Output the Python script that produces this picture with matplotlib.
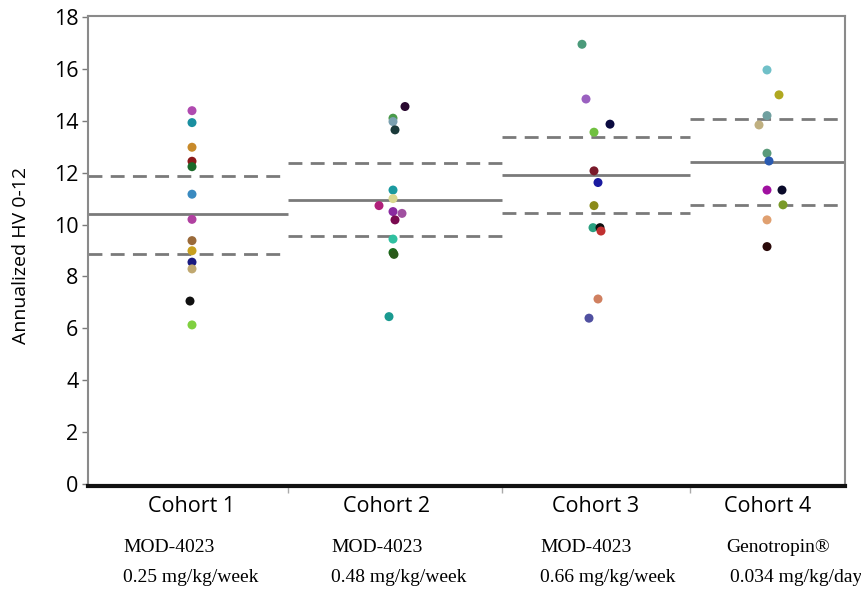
import numpy as np
import matplotlib
matplotlib.use("Agg")
import matplotlib.pyplot as plt

# data
cohorts = ["Cohort 1", "Cohort 2", "Cohort 3", "Cohort 4"]
drugs = ["MOD-4023", "MOD-4023", "MOD-4023", "Genotropin\u00ae"]
doses = ["0.25 mg/kg/week", "0.48 mg/kg/week", "0.66 mg/kg/week", "0.034 mg/kg/day"]

hv_c1 = [14.39, 13.93, 12.98, 12.44, 12.23, 11.17, 10.20, 9.38, 8.99, 8.55, 8.29, 7.05, 6.13]
hv_c2 = [14.55, 14.10, 13.97, 13.65, 11.33, 11.00, 10.73, 10.50, 10.43, 10.18, 9.44, 8.92, 8.85, 6.45]
hv_c3 = [16.95, 14.84, 13.87, 13.56, 12.07, 11.62, 10.73, 9.88, 9.88, 9.75, 7.13, 6.39]
hv_c4 = [15.96, 15.00, 14.20, 13.84, 12.75, 12.45, 11.33, 11.33, 10.76, 10.18, 9.15]

means = [10.40, 10.95, 11.90, 12.43]
upper = [11.89, 12.36, 13.39, 14.06]
lower = [8.86, 9.57, 10.43, 10.76]

# point colours (per subject)
col_c1 = ["#b04ab0", "#1a8fa0", "#c88a2a", "#8b1a1a", "#1a6a2a", "#3a8ac0", "#b040a0",
          "#9a6a3a", "#c8a020", "#1a1a80", "#c0a870", "#101010", "#80d040"]
col_c2 = ["#2a0a30", "#4a9a4a", "#7aa0b0", "#1a3a3a", "#1a9aa0", "#d8d890", "#b0207a",
          "#8a2aa0", "#a050a0", "#7a0a50", "#30c0a0", "#1a6a1a", "#2a5a1a", "#1a9a90"]
col_c3 = ["#4a9a7a", "#9a60c0", "#0a0a40", "#70c040", "#7a1a2a", "#1a1aa0", "#8a8a1a",
          "#2aa080", "#101010", "#c03030", "#d08060", "#5050a0"]
col_c4 = ["#70c0c8", "#b0a820", "#70a0a0", "#c0b080", "#5a9a7a", "#2a5ab0", "#a010a0",
          "#0a0a2a", "#7a9a2a", "#e0a070", "#2a0a0a"]

# layout: category edges / centres and small horizontal jitter (axis units ~ px)
edges = [0, 200, 414, 602, 757]
centres = [104, 305, 507, 680]
label_x = [104, 299, 508, 680]
jit_c1 = [0, 0, 0, 0, 0, 0, 0, 0, 0, 0, 0, -2, 0]
jit_c2 = [12, 0, 0, 2, 0, 0, -14, 0, 9, 2, 0, 0, 1, -4]
jit_c3 = [-13, -9, 15, -1, -1, 3, -1, -2, 5, 6, 3, -6]
jit_c4 = [-1, 11, -1, -9, -1, 1, -1, 14, 15, -1, -1]

values = [hv_c1, hv_c2, hv_c3, hv_c4]
colors = [col_c1, col_c2, col_c3, col_c4]
jitters = [jit_c1, jit_c2, jit_c3, jit_c4]

fig = plt.figure(figsize=(8.62, 5.89), dpi=100)
ax = fig.add_axes([88 / 862, 1 - 486 / 589, (845 - 88) / 862, (486 - 16) / 589])

grey = "#7a7a7a"
for i in range(4):
    x0, x1 = edges[i], edges[i + 1]
    ax.plot([x0, x1], [means[i]] * 2, color=grey, lw=2, solid_capstyle="butt", zorder=1)
    ax.plot([x0, x1], [upper[i]] * 2, color=grey, lw=2, ls=(0, (5, 3)), zorder=1)
    ax.plot([x0, x1], [lower[i]] * 2, color=grey, lw=2, ls=(0, (5, 3)), zorder=1)
    xs = centres[i] + np.array(jitters[i])
    ax.scatter(xs, values[i], s=42, c=colors[i], edgecolors="none", zorder=3)

ax.set_xlim(edges[0], edges[-1])
ax.set_ylim(-0.08, 18.04)
ax.set_yticks(np.arange(0, 19, 2))
ax.tick_params(axis="y", length=4, width=1, color=grey, labelsize=15.5, pad=3)
for lab in ax.get_yticklabels():
    lab.set_family("Open Sans")

ax.set_xticks(edges[1:-1])
ax.set_xticklabels([])
ax.tick_params(axis="x", length=5, width=1, color="#aaaaaa")

for s in ["left", "top", "right"]:
    ax.spines[s].set_color("#8a8a8a")
    ax.spines[s].set_linewidth(1.5)
ax.spines["bottom"].set_color("#111111")
ax.spines["bottom"].set_linewidth(3)

ax.set_ylabel("Annualized HV 0-12", fontsize=14, family="Open Sans")
ax.yaxis.set_label_coords(-0.077, 0.49)

# cohort labels below axis
for i, name in enumerate(cohorts):
    ax.text(label_x[i], -0.45, name, ha="center", va="top", fontsize=15.5, family="Open Sans")

text_x = [123, 331, 540, 726]
for i in range(4):
    fig.text(text_x[i] / 862, 1 - 547 / 589, drugs[i], ha="left", va="center",
             fontsize=14, family="Liberation Serif")
    fig.text((text_x[i] + (4 if i == 3 else 0)) / 862, 1 - 577 / 589, doses[i],
             ha="left", va="center", fontsize=14, family="Liberation Serif")

fig.savefig("out.png", dpi=100)
